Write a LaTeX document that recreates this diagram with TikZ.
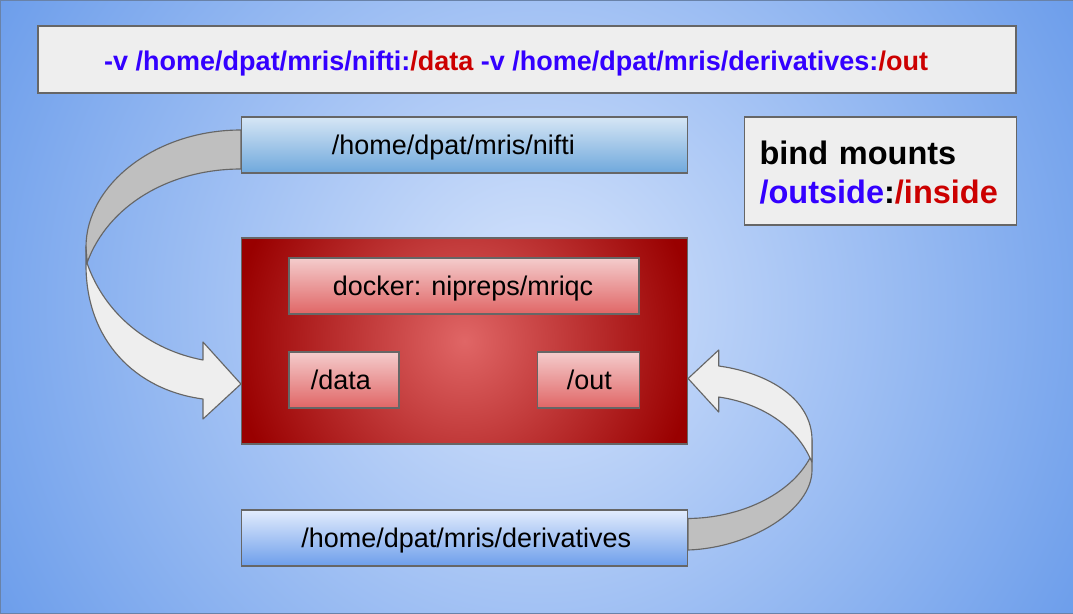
\documentclass[tikz,border=0pt]{standalone}
\usepackage{fontspec}
\setmainfont{Liberation Sans}
\usepackage{xcolor}
\usepackage{tikz}
\usetikzlibrary{calc, positioning}
\definecolor{strokegray}{HTML}{666666}
\definecolor{panelgray}{HTML}{EEEEEE}
\definecolor{backgray}{HTML}{BFBFBF}
\definecolor{pathblue}{HTML}{3300FF}
\definecolor{pathred}{HTML}{CC0000}
\definecolor{skyin}{HTML}{D6E4FC}
\definecolor{skyout}{HTML}{6D9EEB}
\definecolor{redin}{HTML}{E06666}
\definecolor{redout}{HTML}{990000}
\definecolor{pinktop}{HTML}{F4CCCC}
\definecolor{steeltop}{HTML}{D6E6F5}
\definecolor{steelbot}{HTML}{6FA8DC}
\pgfdeclareradialshading{skyshade}{\pgfpoint{0bp}{0bp}}{color(0bp)=(skyin); color(28.75bp)=(skyout); color(50bp)=(skyout)}
\pgfdeclareradialshading{redshade}{\pgfpoint{0bp}{0bp}}{color(0bp)=(redin); color(26bp)=(redout); color(50bp)=(redout)}
\tikzset{
	outline/.style={draw=strokegray, line width=0.65pt},
	plainbox/.style={outline, rectangle, inner sep=0pt, text height=11.3pt, text depth=0pt, font=\fontsize{15.35pt}{18pt}\selectfont},
	pinkbox/.style={plainbox, top color=pinktop, bottom color=redin},
	panel/.style={outline, rectangle, inner sep=0pt, fill=panelgray, font=\fontsize{15.37pt}{18pt}\selectfont\bfseries},
	backribbon/.style={outline, fill=backgray, line join=round},
	frontribbon/.style={outline, fill=panelgray, line join=round},
}
\newcommand{\blu}[1]{\textcolor{pathblue}{#1}}
\newcommand{\rd}[1]{\textcolor{pathred}{#1}}

\begin{document}
\begin{tikzpicture}[x=0.02cm, y=-0.02cm]
	\useasboundingbox (0,0) rectangle (1073,613);
	\begin{scope}
		\clip (0,0) rectangle (1073,613);
		\path [shading=skyshade] (-0.5,-230.5) rectangle (1073.5,843.5);
	\end{scope}
	\path [draw=strokegray!50!skyout, line width=0.5pt] (0,0) rectangle (1073,613);

	\node [panel, minimum width=978*0.02cm, minimum height=67*0.02cm, text height=13pt, text depth=0pt] (cmd) at (527,59.5) {\kern-12.4pt\blu{-v /home/dpat/mris/nifti:}\rd{/data} \blu{-v /home/dpat/mris/derivatives:}\rd{/out}};
	\node [panel, minimum width=272*0.02cm, minimum height=108*0.02cm, text width=242*0.02cm, align=left, text height=15.5pt, font=\fontsize{18.5pt}{22pt}\selectfont\bfseries] (legend) at (880.5,171) {bind mounts\\ \blu{/outside}:\rd{/inside}};

	\node [plainbox, minimum width=446*0.02cm, minimum height=56*0.02cm, top color=steeltop, bottom color=steelbot] (nifti) at (464.5,145) {\kern-12.7pt /home/dpat/mris/nifti};
	\node [plainbox, minimum width=446*0.02cm, minimum height=56*0.02cm, top color=skyin!70!white, bottom color=skyout] (deriv) at (464.5,538) {\kern2pt /home/dpat/mris/derivatives};

	\begin{scope}
		\clip (241.5,238) rectangle (687.5,444);
		\path [shading=redshade] (241.5,118) rectangle (687.5,564);
	\end{scope}
	\node [outline, inner sep=0pt, minimum width=446*0.02cm, minimum height=206*0.02cm] (container) at (464.5,341) {};

	\node [pinkbox, minimum width=350*0.02cm, minimum height=56*0.02cm] (image) at (464,286) {\kern-1pt docker: nipreps/mriqc};
	\node [pinkbox, minimum width=110*0.02cm, minimum height=56*0.02cm] (data) at (344,380) {\kern-3.6pt /data};
	\node [pinkbox, minimum width=102*0.02cm, minimum height=56*0.02cm] (out) at (588.5,380) {\kern1pt /out};

	% left ribbon
	\coordinate (foldl) at (87,263);
	\draw [backribbon] (nifti.west |- 0,130) .. controls (155,130) and (86,185) .. (86,247) -- (foldl) .. controls (108,205) and (170,169) .. (nifti.west |- 0,169) -- cycle;
	\draw [frontribbon] (foldl) -- (86,247) -- (86,265) .. controls (86,340) and (135,390) .. (203,399) -- (203,419) -- (container.west |- 0,384) -- (203,342) -- (203,360) .. controls (150,350) and (105,315) .. (foldl);

	% right ribbon
	\coordinate (foldr) at (810,458);
	\draw [backribbon] (deriv.east |- 0,550) .. controls (750,548) and (812,510) .. (812,470) -- (812,440) -- (foldr) .. controls (790,495) and (740,518) .. (deriv.east |- 0,518.5) -- cycle;
	\draw [frontribbon] (foldr) -- (812,462) -- (812,440) .. controls (812,400) and (770,373) .. (718.7,366) -- (718.7,350) -- (container.east |- 0,378.5) -- (718.7,412) -- (718.7,397) .. controls (760,403) and (795,425) .. (foldr);
\end{tikzpicture}
\end{document}
